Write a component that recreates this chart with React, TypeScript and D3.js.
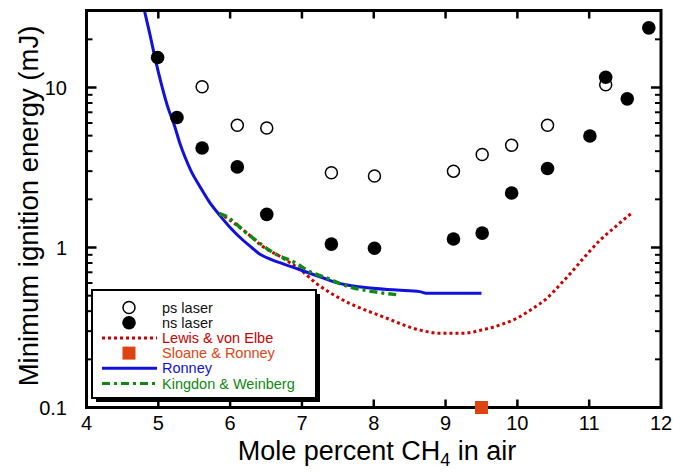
import React from 'react';
import * as d3 from 'd3';

// ---- data ----
const psX = [5.61, 6.10, 6.51, 7.41, 8.01, 9.11, 9.51, 9.92, 10.42, 11.23];
const psY = [10.1, 5.81, 5.59, 2.93, 2.80, 3.0, 3.81, 4.36, 5.81, 10.4];

const nsX = [4.99, 5.26, 5.61, 6.10, 6.51, 7.41, 8.01, 9.11, 9.51, 9.92, 10.42, 11.01, 11.23, 11.53, 11.83];
const nsY = [15.4, 6.5, 4.19, 3.19, 1.61, 1.05, 0.99, 1.13, 1.23, 2.19, 3.12, 4.98, 11.6, 8.49, 23.6];

const lewisX = [5.85, 5.99, 6.18, 6.46, 6.74, 7.01, 7.20, 7.57, 8.13, 8.64, 8.92, 9.25, 9.50, 9.76, 9.99, 10.22, 10.41, 10.59, 10.78, 10.96, 11.15, 11.34, 11.59];
const lewisY = [1.64, 1.49, 1.29, 1.01, 0.856, 0.706, 0.597, 0.47, 0.369, 0.305, 0.291, 0.291, 0.305, 0.328, 0.361, 0.417, 0.481, 0.583, 0.724, 0.898, 1.11, 1.32, 1.64];

const sloaneX = [9.5];
const sloaneY = [0.1];

const ronneyX = [4.81, 4.88, 4.95, 5.04, 5.13, 5.23, 5.30, 5.37, 5.46, 5.58, 5.71, 5.85, 5.99, 6.18, 6.30, 6.41, 6.55, 6.74, 6.92, 7.11, 7.30, 7.48, 7.85, 8.32, 8.64, 8.73, 9.50];
const ronneyY = [29.8, 21.8, 15.6, 10.6, 7.59, 5.69, 4.48, 3.69, 2.98, 2.40, 1.93, 1.60, 1.35, 1.11, 1.0, 0.91, 0.85, 0.79, 0.74, 0.69, 0.645, 0.603, 0.564, 0.542, 0.53, 0.518, 0.517];

const kingdonX = [5.85, 5.90, 6.23, 6.60, 6.92, 7.11, 7.32, 7.62, 7.99, 8.36];
const kingdonY = [1.62, 1.60, 1.23, 0.928, 0.796, 0.706, 0.652, 0.575, 0.53, 0.505];

const xTicks = [4, 5, 6, 7, 8, 9, 10, 11, 12];
const yMajor = [0.1, 1, 10];
const yMinor = [0.2, 0.3, 0.4, 0.5, 0.6, 0.7, 0.8, 0.9, 2, 3, 4, 5, 6, 7, 8, 9, 20];
const yLabels = ['0.1', '1', '10'];

const legendItems = [
  { label: 'ps laser', kind: 'open', color: '#000' },
  { label: 'ns laser', kind: 'filled', color: '#000' },
  { label: 'Lewis & von Elbe', kind: 'dot', color: '#cc0000' },
  { label: 'Sloane & Ronney', kind: 'square', color: '#dd4411' },
  { label: 'Ronney', kind: 'solid', color: '#1111dd' },
  { label: 'Kingdon & Weinberg', kind: 'dashdot', color: '#118811' },
];

const W = 673, H = 473;
const left = 86.5, right = 661, top = 10.5, bottom = 407.5;
const font = '"Liberation Sans", Arial, Helvetica, sans-serif';

export default function App() {
  const x = d3.scaleLinear().domain([4, 12]).range([left, right]);
  const y = d3.scaleLog().domain([0.1, 10]).range([bottom, bottom - 320]);
  const line = d3.line<[number, number]>().x(d => x(d[0])).y(d => y(d[1])).curve(d3.curveMonotoneX);
  const zip = (a: number[], b: number[]) => a.map((v, i) => [v, b[i]] as [number, number]);

  const lx = 92, ly = 290, lw = 224, lh = 108;
  const rowY = (i: number) => 307.5 + i * 15.2;

  return (
    <svg width={W} height={H} style={{ position: 'absolute', left: 0, top: 0, background: '#fff' }} fontFamily={font}>
      <rect x={0} y={0} width={W} height={H} fill="#fff" />
      {/* ticks */}
      {xTicks.slice(1, -1).map(t => (
        <g key={'xt' + t}>
          <line x1={x(t)} x2={x(t)} y1={bottom} y2={bottom - 8} stroke="#000" strokeWidth={2.5} />
          <line x1={x(t)} x2={x(t)} y1={top} y2={top + 8} stroke="#000" strokeWidth={2.5} />
        </g>
      ))}
      {yMajor.map(t => (
        <g key={'ym' + t}>
          <line x1={left} x2={left + 10} y1={y(t)} y2={y(t)} stroke="#000" strokeWidth={2.5} />
          <line x1={right} x2={right - 10} y1={y(t)} y2={y(t)} stroke="#000" strokeWidth={2.5} />
        </g>
      ))}
      {yMinor.map(t => (
        <g key={'yn' + t}>
          <line x1={left} x2={left + 6} y1={y(t)} y2={y(t)} stroke="#000" strokeWidth={2} />
          <line x1={right} x2={right - 6} y1={y(t)} y2={y(t)} stroke="#000" strokeWidth={2} />
        </g>
      ))}
      {/* curves */}
      <path d={line(zip(lewisX, lewisY)) || ''} fill="none" stroke="#cc0000" strokeWidth={3} strokeDasharray="3,3" />
      <path d={line(zip(ronneyX, ronneyY)) || ''} fill="none" stroke="#1111dd" strokeWidth={3} />
      <path d={line(zip(kingdonX, kingdonY)) || ''} fill="none" stroke="#118811" strokeWidth={3.5} strokeDasharray="8,4,3,4" />
      {/* points */}
      {nsX.map((v, i) => (
        <circle key={'ns' + i} cx={x(v)} cy={y(nsY[i])} r={6.8} fill="#000" />
      ))}
      {psX.map((v, i) => (
        <circle key={'ps' + i} cx={x(v)} cy={y(psY[i])} r={6} fill="#fff" fillOpacity={0} stroke="#000" strokeWidth={1.5} />
      ))}
      {/* frame */}
      <rect x={left} y={top} width={right - left} height={bottom - top} fill="none" stroke="#000" strokeWidth={3} />
      {sloaneX.map((v, i) => (
        <rect key={'sl' + i} x={x(v) - 6.5} y={y(sloaneY[i]) - 6.5} width={13} height={13} fill="#dd4411" />
      ))}
      {/* legend */}
      <rect x={lx + 4} y={ly + 4} width={lw} height={lh} fill="#000" />
      <rect x={lx} y={ly} width={lw} height={lh} fill="#fff" stroke="#000" strokeWidth={2} />
      {legendItems.map((it, i) => {
        const cy = rowY(i);
        let sym: any = null;
        if (it.kind === 'open') sym = <circle cx={129} cy={cy} r={6} fill="#fff" stroke="#000" strokeWidth={1.5} />;
        else if (it.kind === 'filled') sym = <circle cx={129} cy={cy} r={6.8} fill="#000" />;
        else if (it.kind === 'square') sym = <rect x={122.5} y={cy - 6.5} width={13} height={13} fill={it.color} />;
        else {
          const dash = it.kind === 'dot' ? '3,3' : it.kind === 'dashdot' ? '8,4,3,4' : undefined;
          sym = <line x1={102} x2={157} y1={cy} y2={cy} stroke={it.color} strokeWidth={3} strokeDasharray={dash} />;
        }
        return (
          <g key={'lg' + i}>
            {sym}
            <text x={162} y={cy + 5} fontSize={14.5} fill={it.color === '#000' ? '#111' : it.color}>{it.label}</text>
          </g>
        );
      })}
      {/* tick labels */}
      {xTicks.map(t => (
        <text key={'xl' + t} x={x(t)} y={430} fontSize={20} textAnchor="middle">{t}</text>
      ))}
      {yMajor.map((t, i) => (
        <text key={'yl' + t} x={67} y={y(t) + 7} fontSize={20} textAnchor="end">{yLabels[i]}</text>
      ))}
      {/* axis titles */}
      <text x={377} y={460} fontSize={27} textAnchor="middle">
        Mole percent CH<tspan fontSize={18} dy={6}>4</tspan><tspan dy={-6}> in air</tspan>
      </text>
      <text transform={`translate(38,206) rotate(-90)`} fontSize={27.5} textAnchor="middle">
        Minimum ignition energy (mJ)
      </text>
    </svg>
  );
}
